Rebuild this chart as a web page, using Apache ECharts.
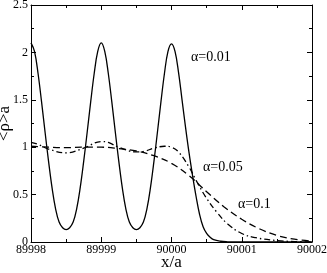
<!DOCTYPE html>
<html>
<head>
<meta charset="utf-8">
<script src="https://cdn.jsdelivr.net/npm/echarts@6/dist/echarts.min.js"></script>
<style>
html,body{margin:0;padding:0;background:#fff;}
#c{width:327px;height:273px;}
</style>
</head>
<body>
<div id="c"></div>
<script>
// alpha = 0.01 (solid)
var solidX = [89998.00,89998.05,89998.10,89998.15,89998.20,89998.25,89998.30,89998.35,89998.40,89998.45,
  89998.50,89998.55,89998.60,89998.65,89998.70,89998.75,89998.80,89998.85,89998.90,89998.95,
  89999.00,89999.05,89999.10,89999.15,89999.20,89999.25,89999.30,89999.35,89999.40,89999.45,
  89999.50,89999.55,89999.60,89999.65,89999.70,89999.75,89999.80,89999.85,89999.90,89999.95,
  90000.00,90000.05,90000.10,90000.15,90000.20,90000.25,90000.30,90000.35,90000.40,90000.45,
  90000.50,90000.55,90000.60,90000.70,90000.80,90000.90,90001.00,90001.50,90002.00];
var solidY = [2.10,2.01,1.78,1.48,1.16,0.85,0.57,0.35,0.21,0.15,
  0.13,0.15,0.21,0.35,0.57,0.85,1.16,1.48,1.78,2.01,
  2.10,2.01,1.78,1.48,1.16,0.85,0.57,0.35,0.21,0.15,
  0.13,0.15,0.21,0.35,0.57,0.85,1.16,1.48,1.78,2.01,
  2.09,2.01,1.79,1.50,1.21,0.94,0.70,0.48,0.29,0.16,
  0.09,0.05,0.025,0.008,0.002,0.0,0.0,0.0,0.0];
// alpha = 0.05 (dash-dot)
var dashDotX = [89998.0,89998.1,89998.25,89998.5,89998.75,89999.0,89999.1,89999.25,89999.5,89999.6,
  89999.75,89999.9,90000.0,90000.1,90000.25,90000.35,90000.5,90000.65,90000.8,90001.0,
  90001.2,90001.5,90001.75,90002.0];
var dashDotY = [1.05,1.03,0.98,0.94,0.99,1.06,1.05,1.00,0.95,0.955,
  0.99,1.01,1.00,0.95,0.79,0.65,0.46,0.31,0.19,0.09,
  0.045,0.015,0.005,0.0];
// alpha = 0.1 (dashed)
var dashedX = [89998.0,89998.25,89998.5,89998.75,89999.0,89999.25,89999.5,89999.75,90000.0,90000.25,
  90000.5,90000.75,90001.0,90001.25,90001.5,90001.75,90002.0];
var dashedY = [1.01,1.00,0.995,1.00,1.00,0.985,0.96,0.91,0.83,0.70,
  0.53,0.37,0.24,0.14,0.07,0.03,0.01];
var xTicks = ['89998','89999','90000','90001','90002'];
var yTicks = ['0','0.5','1','1.5','2','2.5'];
var curveLabels = ['\u03b1=0.01','\u03b1=0.05','\u03b1=0.1'];

function pairs(xs, ys){ return xs.map(function(x,i){ return [x, ys[i]]; }); }

var FONT = '"Liberation Serif","DejaVu Serif",serif';
var axisCommon = {
  type:'value',
  axisLine:{show:true, onZero:false, lineStyle:{color:'#000', width:1}},
  axisTick:{show:true, inside:true, length:5, lineStyle:{color:'#000'}},
  minorTick:{show:true, splitNumber:2, length:3, lineStyle:{color:'#000'}},
  splitLine:{show:false}
};
function ax(extra){ return Object.assign({}, JSON.parse(JSON.stringify(axisCommon)), extra); }

var chart = echarts.init(document.getElementById('c'), null, {renderer:'canvas'});
chart.setOption({
  animation:false,
  backgroundColor:'#fff',
  grid:{left:31, top:5, right:15, bottom:31, containLabel:false, outerBoundsMode:'none'},
  xAxis:[
    ax({min:89998, max:90002, interval:1, position:'bottom',
      name:'x/a', nameLocation:'middle', nameGap:12, nameMoveOverlap:false,
      nameTextStyle:{fontFamily:FONT, fontSize:17, color:'#000'},
      axisLabel:{margin:2, fontFamily:FONT, fontSize:12, color:'#000',
        formatter:function(v){ return xTicks[Math.round(v-89998)]; }}}),
    ax({min:89998, max:90002, interval:1, position:'top', axisLabel:{show:false}})
  ],
  yAxis:[
    ax({min:0, max:2.5, interval:0.5, position:'left',
      name:'<\u03c1>a', nameLocation:'middle', nameGap:18, nameMoveOverlap:false,
      nameTextStyle:{fontFamily:FONT, fontSize:17, color:'#000'},
      axisLabel:{margin:3, fontFamily:FONT, fontSize:12, color:'#000',
        formatter:function(v){ return yTicks[Math.round(v*2)]; }}}),
    ax({min:0, max:2.5, interval:0.5, position:'right', axisLabel:{show:false}})
  ],
  series:[
    {type:'line', data:pairs(solidX, solidY), smooth:0.4, showSymbol:false, symbol:'none',
      lineStyle:{color:'#000', width:1.3, type:'solid'}},
    {type:'line', data:pairs(dashDotX, dashDotY), smooth:0.4, showSymbol:false, symbol:'none',
      lineStyle:{color:'#000', width:1.3, type:[6,3,1.5,3]}},
    {type:'line', data:pairs(dashedX, dashedY), smooth:0.4, showSymbol:false, symbol:'none',
      lineStyle:{color:'#000', width:1.3, type:[7,4]}}
  ],
  graphic:[
    {type:'text', left:191, top:50, style:{text:curveLabels[0], font:'14px '+FONT, fill:'#000'}},
    {type:'text', left:203, top:160, style:{text:curveLabels[1], font:'14px '+FONT, fill:'#000'}},
    {type:'text', left:238, top:197, style:{text:curveLabels[2], font:'14px '+FONT, fill:'#000'}}
  ]
});
</script>
</body>
</html>
